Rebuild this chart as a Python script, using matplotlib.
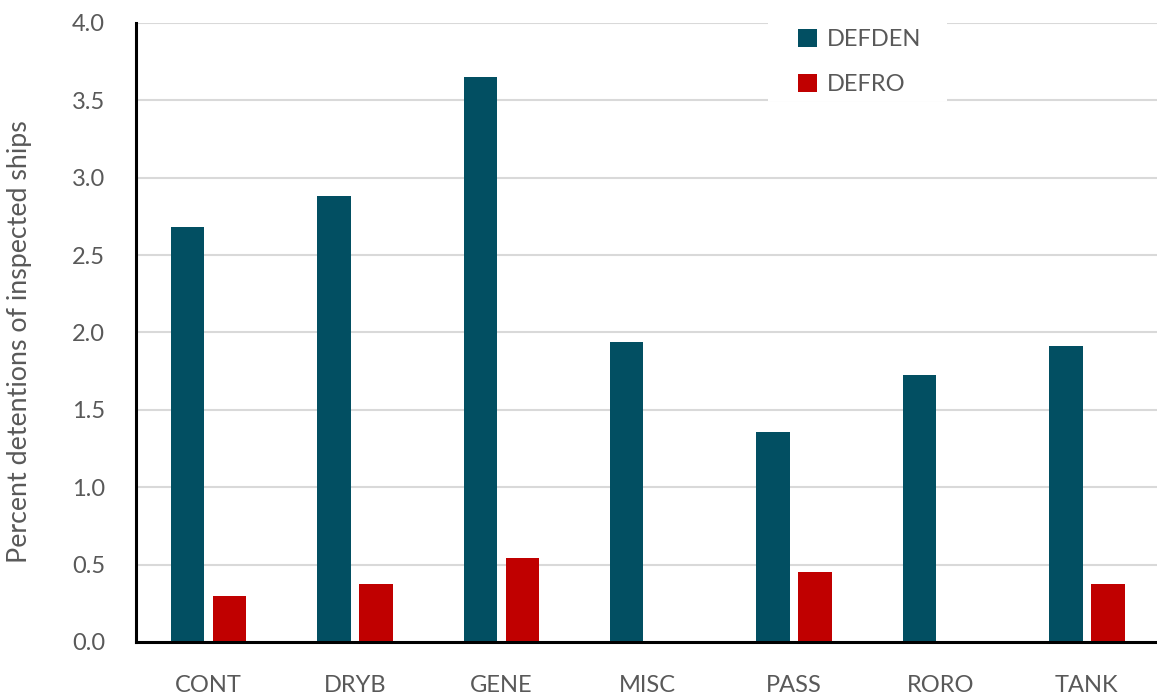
import matplotlib
matplotlib.use("Agg")
import matplotlib.pyplot as plt
import numpy as np
from matplotlib.patches import Rectangle

categories = ["CONT", "DRYB", "GENE", "MISC", "PASS", "RORO", "TANK"]
defden = [2.68, 2.88, 3.65, 1.94, 1.355, 1.727, 1.91]
defro = [0.299, 0.373, 0.545, 0.0, 0.454, 0.0, 0.373]
series_names = ["DEFDEN", "DEFRO"]
yticks = [0.0, 0.5, 1.0, 1.5, 2.0, 2.5, 3.0, 3.5, 4.0]

W, H = 1157, 696
fig = plt.figure(figsize=(W / 100, H / 100), dpi=100)
plt.rcParams['font.family'] = ['Lato', 'DejaVu Sans']
txt = '#595959'

left, right = 135.6, 1160.0
top, bottom = 22.8, 642.0
ax = fig.add_axes([left / W, 1 - bottom / H, (right - left) / W, (bottom - top) / H])

x = np.arange(len(categories))
bw = 0.228
off = 0.1435
c1, c2 = '#024F62', '#C00000'
ax.bar(x - off, defden, bw, color=c1, label=series_names[0], zorder=3)
ax.bar(x + off, defro, bw, color=c2, label=series_names[1], zorder=3)

ax.set_xlim(-0.5, len(categories) - 0.5)
ax.set_ylim(0, 4.0)
ax.set_yticks(yticks)
ax.set_yticklabels([f"{v:.1f}" for v in yticks])
ax.set_xticks(x)
ax.set_xticklabels(categories)
ax.tick_params(axis='both', length=0, labelsize=17, colors=txt)
ax.tick_params(axis='x', pad=24)
ax.tick_params(axis='y', pad=22)
ax.yaxis.grid(True, color='#d9d9d9', linewidth=1.5, zorder=0)
ax.set_axisbelow(True)
for s in ['top', 'right']:
    ax.spines[s].set_visible(False)
for s in ['left', 'bottom']:
    ax.spines[s].set_color('black')
    ax.spines[s].set_linewidth(2.2)
    ax.spines[s].set_zorder(4)

fig.text(20 / W, 1 - ((top + bottom) / 2 + 9) / H, "Percent detentions of inspected ships",
         rotation=90, ha='center', va='center', fontsize=19.3, color=txt)

# legend background box covering gridlines
bg = Rectangle((768 / W, 1 - 101 / H), (947 - 768) / W, 101 / H,
               transform=fig.transFigure, facecolor='white', edgecolor='none', zorder=5)
bg.set_clip_on(False)
ax.add_artist(bg)
leg = ax.legend(loc='upper left', bbox_to_anchor=((777 - left) / (right - left), 1 + (top - 8) / (bottom - top)),
                frameon=False, fontsize=17, handlelength=0.8, handleheight=0.8, handletextpad=0.4,
                labelspacing=1.0, labelcolor=txt)
leg.set_zorder(6)

fig.savefig("out.png", dpi=100)
